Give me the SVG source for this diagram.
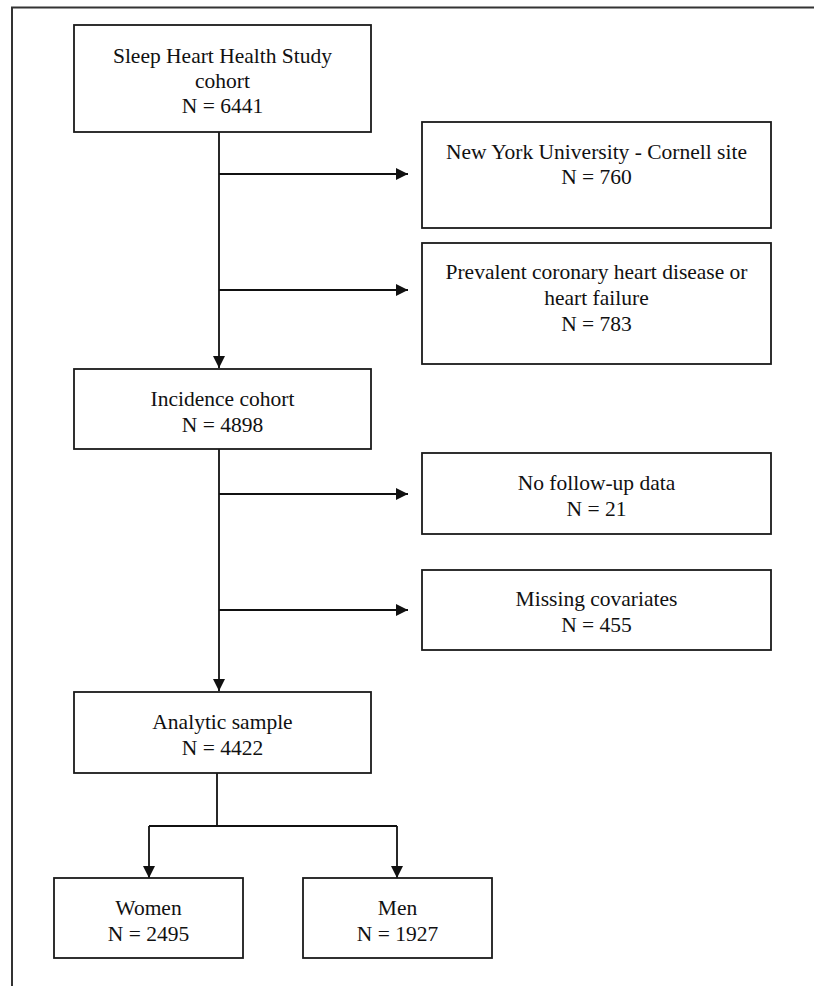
<svg xmlns="http://www.w3.org/2000/svg" width="814" height="986" viewBox="0 0 814 986">
  <style>
    .box { fill: #ffffff; stroke: #1a1a1a; stroke-width: 1.8; }
    .txt { font-family: "Liberation Serif", "Times New Roman", serif; font-size: 21.5px; fill: #111111; text-anchor: middle; }
    .ln { fill: none; stroke: #111111; stroke-width: 1.8; }
  </style>
  <defs>
    <marker id="ah" markerWidth="12" markerHeight="12" refX="12" refY="6" orient="auto" markerUnits="userSpaceOnUse">
      <path d="M0,0 L12,6 L0,12 Z" fill="#111111"/>
    </marker>
  </defs>
  <rect x="0" y="0" width="814" height="986" fill="#ffffff"/>
  <path d="M12,986 L12,7.5 L814,7.5" fill="none" stroke="#333333" stroke-width="2"/>

  <g id="connectors">
    <path class="ln" d="M219,132 L219,368" marker-end="url(#ah)"/>
    <path class="ln" d="M219,174 L408,174" marker-end="url(#ah)"/>
    <path class="ln" d="M219,290 L408,290" marker-end="url(#ah)"/>
    <path class="ln" d="M219,449 L219,691" marker-end="url(#ah)"/>
    <path class="ln" d="M219,494 L408,494" marker-end="url(#ah)"/>
    <path class="ln" d="M219,610 L408,610" marker-end="url(#ah)"/>
    <path class="ln" d="M217,773 L217,826"/>
    <path class="ln" d="M149,826 L397,826"/>
    <path class="ln" d="M149,826 L149,878" marker-end="url(#ah)"/>
    <path class="ln" d="M397,826 L397,878" marker-end="url(#ah)"/>
  </g>

  <g id="shhs">
    <rect class="box" x="74" y="25" width="297" height="107"/>
    <text class="txt" x="222.5" y="63">Sleep Heart Health Study</text>
    <text class="txt" x="222.5" y="88">cohort</text>
    <text class="txt" x="222.5" y="113">N = 6441</text>
  </g>
  <g id="nyu">
    <rect class="box" x="422" y="122" width="349" height="106"/>
    <text class="txt" x="596.5" y="159">New York University - Cornell site</text>
    <text class="txt" x="596.5" y="184">N = 760</text>
  </g>
  <g id="prevalent">
    <rect class="box" x="422" y="243" width="349" height="121"/>
    <text class="txt" x="596.5" y="279">Prevalent coronary heart disease or</text>
    <text class="txt" x="596.5" y="305">heart failure</text>
    <text class="txt" x="596.5" y="331">N = 783</text>
  </g>
  <g id="incidence">
    <rect class="box" x="74" y="369" width="297" height="80"/>
    <text class="txt" x="222.5" y="406">Incidence cohort</text>
    <text class="txt" x="222.5" y="432">N = 4898</text>
  </g>
  <g id="nofollowup">
    <rect class="box" x="422" y="453" width="349" height="81"/>
    <text class="txt" x="596.5" y="490">No follow-up data</text>
    <text class="txt" x="596.5" y="516">N = 21</text>
  </g>
  <g id="missing">
    <rect class="box" x="422" y="570" width="349" height="80"/>
    <text class="txt" x="596.5" y="606">Missing covariates</text>
    <text class="txt" x="596.5" y="632">N = 455</text>
  </g>
  <g id="analytic">
    <rect class="box" x="74" y="692" width="297" height="81"/>
    <text class="txt" x="222.5" y="729">Analytic sample</text>
    <text class="txt" x="222.5" y="755">N = 4422</text>
  </g>
  <g id="women">
    <rect class="box" x="54" y="878" width="189" height="80"/>
    <text class="txt" x="148.5" y="915">Women</text>
    <text class="txt" x="148.5" y="941">N = 2495</text>
  </g>
  <g id="men">
    <rect class="box" x="303" y="878" width="189" height="80"/>
    <text class="txt" x="397.5" y="915">Men</text>
    <text class="txt" x="397.5" y="941">N = 1927</text>
  </g>
</svg>
